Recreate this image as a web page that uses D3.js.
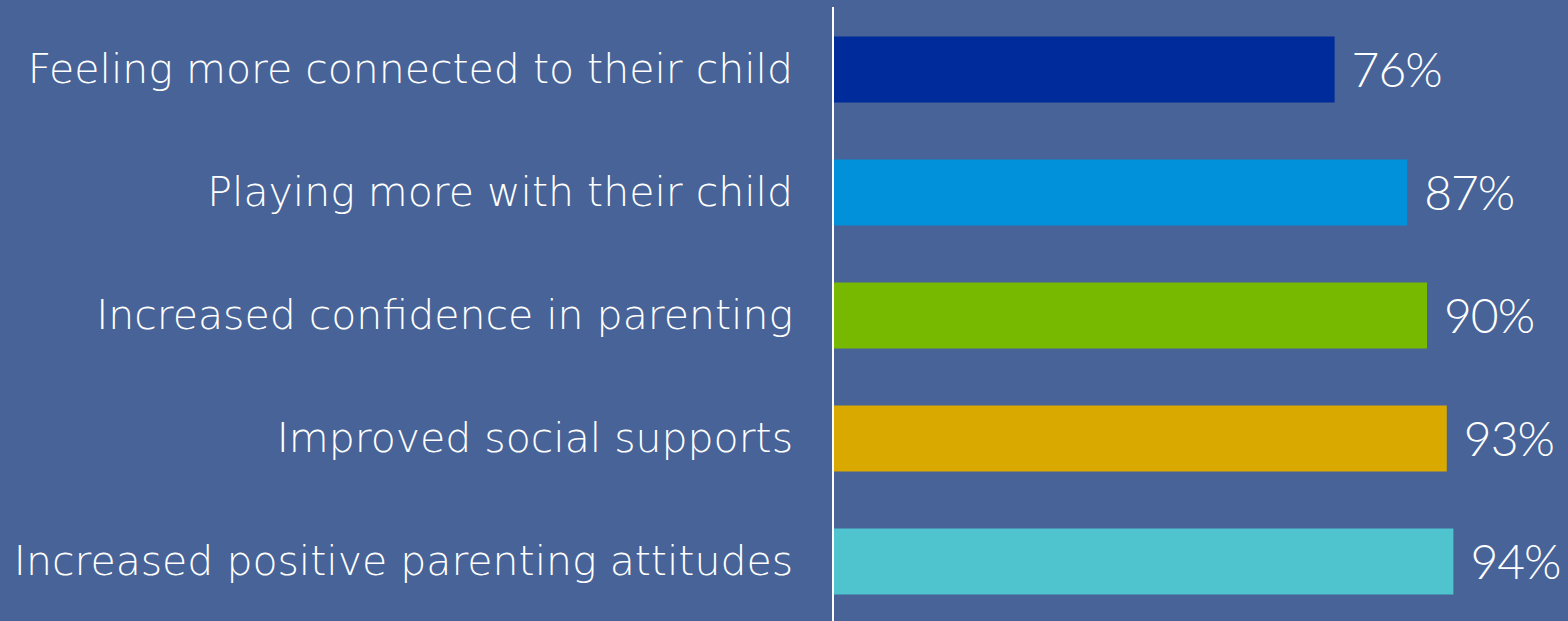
<!DOCTYPE html>
<html>
<head>
<meta charset="utf-8">
<script src="https://cdn.jsdelivr.net/npm/d3@7"></script>
<style>
  html, body { margin: 0; padding: 0; background: #476397; }
  svg { display: block; }
</style>
</head>
<body>
<svg id="chart"></svg>
<script>
// data
const categories = [
  "Feeling more connected to their child",
  "Playing more with their child",
  "Increased confidence in parenting",
  "Improved social supports",
  "Increased positive parenting attitudes"
];
const values = [76, 87, 90, 93, 94];
const barColors = ["#002b9a", "#0091da", "#76b900", "#daa900", "#4fc4cf"];

const W = 1568, H = 621;
const margin = { top: 8, right: 75, bottom: 0, left: 833 };

const svg = d3.select("#chart")
    .attr("width", W)
    .attr("height", H);

svg.append("rect")
    .attr("width", W).attr("height", H)
    .attr("fill", "#476397");

// x: 0..100 percent
const xScale = d3.scaleLinear()
    .domain([0, 100])
    .range([margin.left, margin.left + 660]);

// 123px per row, 66px bars
const yScale = d3.scaleBand()
    .domain(categories)
    .range([8, 8 + 5 * 123])
    .paddingInner(57 / 123)
    .paddingOuter(57 / 123 / 2);

// bars
svg.selectAll(".bar")
    .data(values)
    .enter()
    .append("rect")
    .attr("class", "bar")
    .attr("x", xScale(0) + 1)
    .attr("y", (d, i) => yScale(categories[i]))
    .attr("width", d => xScale(d) - xScale(0) - 1)
    .attr("height", yScale.bandwidth())
    .attr("fill", (d, i) => barColors[i]);

// value labels
svg.selectAll(".val")
    .data(values)
    .enter()
    .append("text")
    .attr("class", "val")
    .attr("x", d => xScale(d) + 17)
    .attr("y", (d, i) => yScale(categories[i]) + yScale.bandwidth() / 2)
    .attr("dy", "0.36em")
    .attr("fill", "#ffffff")
    .style("font-family", "Lato, 'DejaVu Sans', sans-serif")
    .style("font-weight", 300)
    .style("font-size", "48px")
    .style("letter-spacing", "-1px")
    .text(d => d + "%");

// y axis labels
const yAxis = d3.axisLeft(yScale).tickSize(0).tickPadding(40);
const gY = svg.append("g")
    .attr("transform", "translate(" + margin.left + ",0)")
    .call(yAxis);
gY.select(".domain").remove();
gY.selectAll(".tick text")
    .attr("fill", "#ffffff")
    .style("font-family", "'DejaVu Sans', sans-serif")
    .style("font-weight", 200)
    .style("font-size", "41px");

svg.append("line")
    .attr("x1", margin.left).attr("x2", margin.left)
    .attr("y1", 7).attr("y2", H)
    .attr("stroke", "#ffffff")
    .attr("stroke-width", 2);
</script>
</body>
</html>
